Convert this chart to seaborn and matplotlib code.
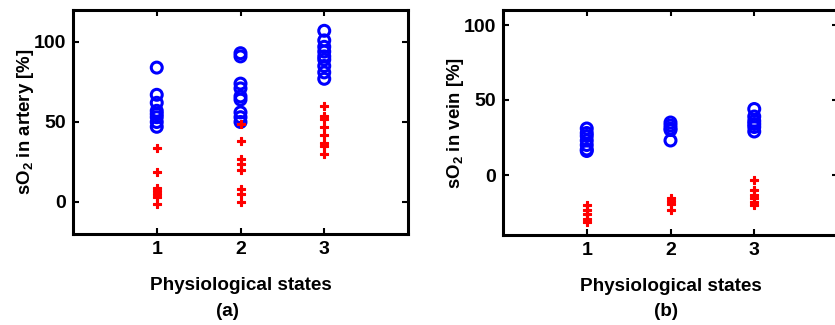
import matplotlib
matplotlib.use("Agg")
import matplotlib.pyplot as plt
import seaborn as sns
import pandas as pd

# ---- data ----
states = [1, 2, 3]
# (a) artery
artery_blue_1 = [84, 67, 62, 57, 55, 53, 50, 47]
artery_blue_2 = [93, 91, 74, 71, 66, 64, 56, 53, 50]
artery_blue_3 = [107, 101, 97, 94, 91, 89, 85, 81, 77]
artery_red_1 = [34, 19, 9, 7, 5, 3, -1]
artery_red_2 = [49, 38, 27, 24, 20, 8, 5, 0]
artery_red_3 = [60, 54, 52, 47, 42, 37, 35, 30]
# (b) vein
vein_blue_1 = [31, 28, 26, 23, 20, 17, 16]
vein_blue_2 = [35, 33, 31, 30, 23]
vein_blue_3 = [44, 39, 36, 34, 32, 29]
vein_red_1 = [-20, -23, -26, -29, -31]
vein_red_2 = [-15, -17, -19, -23]
vein_red_3 = [-3, -10, -13, -15, -18, -20]

x_ticks = [1, 2, 3]
y_ticks = [0, 50, 100]
x_label = "Physiological states"
y_label_a = r"sO$_\mathbf{2}$ in artery [%]"
y_label_b = r"sO$_\mathbf{2}$ in vein [%]"


def long(groups):
    xs, ys = [], []
    for s, vals in zip(states, groups):
        xs += [s] * len(vals)
        ys += vals
    return pd.DataFrame({"state": xs, "value": ys})


sns.set_theme(style="white")
plt.rcParams["font.family"] = ["Liberation Sans", "DejaVu Sans"]
plt.rcParams["font.weight"] = "bold"
plt.rcParams["text.color"] = "black"
plt.rcParams["axes.labelcolor"] = "black"
plt.rcParams["xtick.color"] = "black"
plt.rcParams["ytick.color"] = "black"
plt.rcParams["mathtext.fontset"] = "custom"
plt.rcParams["mathtext.rm"] = "Liberation Sans:bold"
plt.rcParams["mathtext.bf"] = "Liberation Sans:bold"
plt.rcParams["mathtext.it"] = "Liberation Sans:bold"

fig = plt.figure(figsize=(8.35, 3.25), dpi=100)
ax_a = fig.add_axes([73 / 835, 1 - 234 / 325, 335 / 835, 224 / 325])
ax_b = fig.add_axes([503 / 835, 1 - 235 / 325, 335 / 835, 225 / 325])

panels = [
    (ax_a, [artery_blue_1, artery_blue_2, artery_blue_3],
     [artery_red_1, artery_red_2, artery_red_3], (-20, 120), y_label_a, "(a)", 227),
    (ax_b, [vein_blue_1, vein_blue_2, vein_blue_3],
     [vein_red_1, vein_red_2, vein_red_3], (-40, 110), y_label_b, "(b)", 666),
]

for ax, blue, red, ylim, ylab, tag, tagx in panels:
    sns.scatterplot(data=long(blue), x="state", y="value", ax=ax,
                    marker="o", s=62, facecolor="none", edgecolor="#0000ff",
                    linewidth=2.2, zorder=3)
    sns.scatterplot(data=long(red), x="state", y="value", ax=ax,
                    marker="P", s=36, color="#ff0000", edgecolor="#ff0000",
                    linewidth=0.8, zorder=4)
    ax.set_xlim(0, 4)
    ax.set_ylim(*ylim)
    ax.set_xticks(x_ticks)
    ax.set_yticks(y_ticks)
    ax.set_xticklabels([str(t) for t in x_ticks], fontsize=14, fontweight="bold")
    ax.set_yticklabels([str(t) for t in y_ticks], fontsize=14, fontweight="bold")
    ax.tick_params(direction="in", length=4, width=1.5, top=True, right=True,
                   bottom=True, left=True, pad=5, colors="black")
    for sp in ax.spines.values():
        sp.set_visible(True)
        sp.set_linewidth(2.2)
        sp.set_color("black")
    ax.set_xlabel(x_label, fontsize=13.6, fontweight="bold", labelpad=14)
    ax.set_ylabel(ylab, fontsize=13.4, fontweight="bold", labelpad=-2)
    fig.text(tagx / 835, 1 - 312 / 325, tag, ha="center", va="center",
             fontsize=13.6, fontweight="bold")

fig.savefig("out.png", dpi=100)
